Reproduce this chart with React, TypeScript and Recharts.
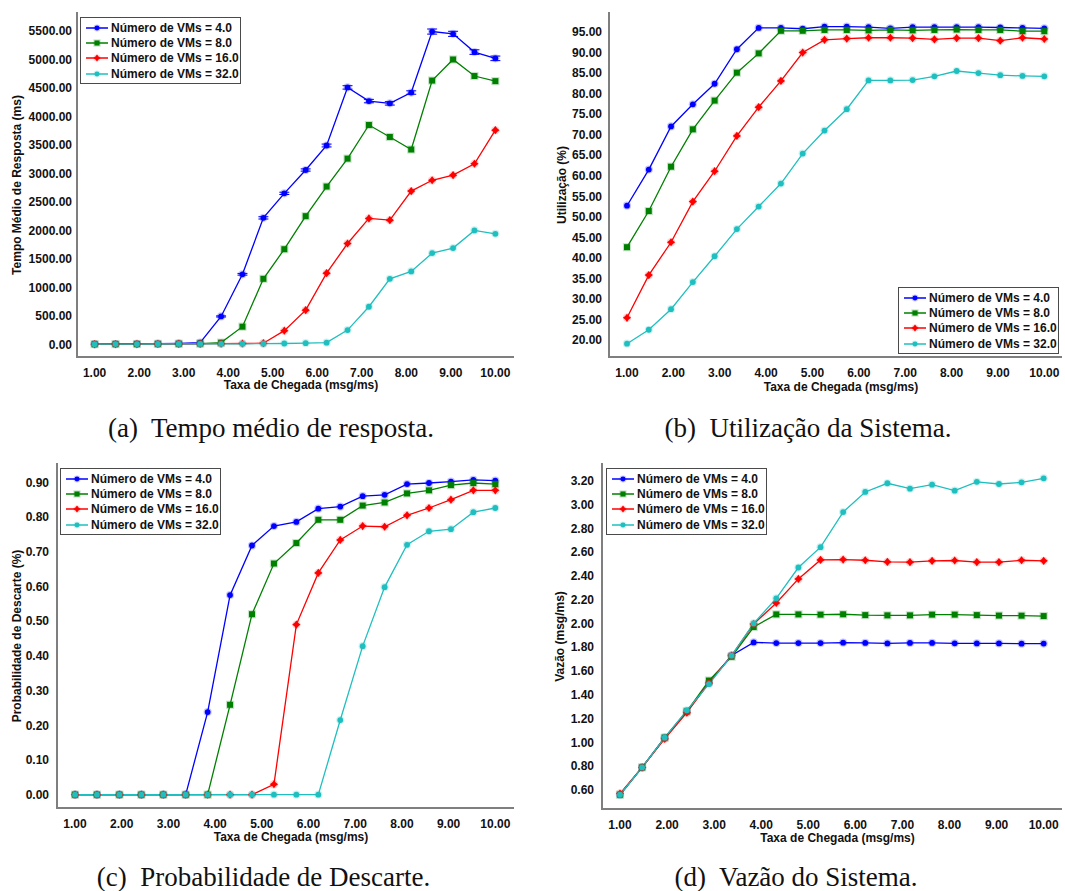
import React from 'react';
import { LineChart, Line, XAxis, YAxis, Legend, ErrorBar, Label } from 'recharts';

// ---------- data ----------
const rates = [1.0, 1.47, 1.95, 2.42, 2.89, 3.37, 3.84, 4.32, 4.79, 5.26, 5.74, 6.21, 6.68, 7.16, 7.63, 8.11, 8.58, 9.05, 9.53, 10.0];
const xTicks = [1, 2, 3, 4, 5, 6, 7, 8, 9, 10];

const respVm4 = [5, 6, 8, 12, 18, 30, 490, 1230, 2220, 2650, 3060, 3490, 4510, 4270, 4230, 4420, 5490, 5450, 5130, 5020];
const respVm4Err = [0, 0, 0, 0, 0, 0, 10, 15, 20, 20, 20, 25, 30, 30, 30, 30, 45, 45, 40, 40];
const respVm8 = [4, 5, 6, 8, 10, 14, 30, 310, 1150, 1670, 2250, 2770, 3260, 3850, 3640, 3420, 4630, 5000, 4710, 4620];
const respVm16 = [3, 4, 5, 6, 7, 9, 12, 15, 20, 240, 600, 1250, 1770, 2210, 2180, 2690, 2880, 2970, 3170, 3760];
const respVm32 = [3, 4, 5, 6, 7, 8, 9, 10, 12, 15, 20, 30, 250, 660, 1150, 1280, 1600, 1690, 2000, 1940];
const respTicks = [0, 500, 1000, 1500, 2000, 2500, 3000, 3500, 4000, 4500, 5000, 5500];

const utilVm4 = [52.7, 61.5, 72.0, 77.4, 82.4, 90.8, 96.0, 96.0, 95.8, 96.3, 96.3, 96.2, 95.9, 96.2, 96.2, 96.2, 96.2, 96.1, 96.0, 95.9];
const utilVm8 = [42.6, 51.4, 62.2, 71.3, 78.3, 85.1, 89.8, 95.3, 95.3, 95.5, 95.5, 95.4, 95.5, 95.4, 95.5, 95.6, 95.5, 95.5, 95.2, 95.2];
const utilVm16 = [25.4, 35.8, 43.8, 53.7, 61.1, 69.7, 76.7, 83.1, 90.0, 93.1, 93.4, 93.6, 93.6, 93.5, 93.2, 93.5, 93.5, 92.9, 93.6, 93.3];
const utilVm32 = [19.1, 22.5, 27.5, 34.1, 40.4, 47.0, 52.5, 58.1, 65.4, 71.0, 76.2, 83.2, 83.2, 83.3, 84.2, 85.5, 85.0, 84.5, 84.3, 84.2];
const utilTicks = [20, 25, 30, 35, 40, 45, 50, 55, 60, 65, 70, 75, 80, 85, 90, 95];

const dropVm4 = [0, 0, 0, 0, 0, 0, 0.238, 0.575, 0.718, 0.774, 0.786, 0.824, 0.83, 0.86, 0.864, 0.895, 0.898, 0.902, 0.907, 0.905];
const dropVm8 = [0, 0, 0, 0, 0, 0, 0, 0.259, 0.52, 0.666, 0.725, 0.792, 0.792, 0.833, 0.842, 0.868, 0.877, 0.892, 0.898, 0.895];
const dropVm16 = [0, 0, 0, 0, 0, 0, 0, 0, 0, 0.03, 0.49, 0.639, 0.734, 0.774, 0.772, 0.805, 0.826, 0.85, 0.877, 0.877];
const dropVm32 = [0, 0, 0, 0, 0, 0, 0, 0, 0, 0, 0, 0, 0.215, 0.428, 0.598, 0.72, 0.759, 0.765, 0.814, 0.826];
const dropTicks = [0, 0.1, 0.2, 0.3, 0.4, 0.5, 0.6, 0.7, 0.8, 0.9];

const thrVm4 = [0.56, 0.79, 1.04, 1.26, 1.5, 1.73, 1.84, 1.835, 1.835, 1.835, 1.838, 1.836, 1.832, 1.836, 1.836, 1.833, 1.832, 1.832, 1.83, 1.831];
const thrVm8 = [0.56, 0.79, 1.04, 1.26, 1.52, 1.72, 1.97, 2.076, 2.076, 2.074, 2.077, 2.07, 2.068, 2.068, 2.074, 2.074, 2.07, 2.066, 2.065, 2.062];
const thrVm16 = [0.57, 0.79, 1.03, 1.25, 1.5, 1.73, 1.995, 2.172, 2.374, 2.534, 2.537, 2.531, 2.517, 2.515, 2.526, 2.529, 2.515, 2.515, 2.531, 2.526];
const thrVm32 = [0.56, 0.79, 1.04, 1.27, 1.49, 1.73, 2.0, 2.211, 2.47, 2.641, 2.936, 3.105, 3.178, 3.133, 3.166, 3.116, 3.19, 3.172, 3.186, 3.22];
const thrTicks = [0.6, 0.8, 1.0, 1.2, 1.4, 1.6, 1.8, 2.0, 2.2, 2.4, 2.6, 2.8, 3.0, 3.2];

const seriesNames = ['Número de VMs = 4.0', 'Número de VMs = 8.0', 'Número de VMs = 16.0', 'Número de VMs = 32.0'];
const seriesKeys = ['vm4', 'vm8', 'vm16', 'vm32'];
const seriesColors = ['#0000FF', '#008000', '#FF0000', '#1FBFBF'];
const seriesShapes = ['circle', 'square', 'star', 'circle'];

const xLabelText = 'Taxa de Chegada (msg/ms)';

// ---------- helpers ----------
function buildRows(v4: number[], v8: number[], v16: number[], v32: number[], e4?: number[]) {
  return rates.map((x, i) => ({
    x,
    vm4: v4[i],
    vm8: v8[i],
    vm16: v16[i],
    vm32: v32[i],
    err4: e4 ? e4[i] : 0,
  }));
}

const FONT = '"Liberation Sans", Arial, Helvetica, sans-serif';
const FRAME = '#7f7f7f';

function Marker({ shape, color, cx, cy, s = 1 }: { shape: string; color: string; cx: number; cy: number; s?: number }) {
  if (shape === 'square') {
    const h = 3.0 * s;
    return (
      <g>
        <rect x={cx - h - 1.1} y={cy - h - 1.1} width={2 * h + 2.2} height={2 * h + 2.2} fill={color} opacity={0.22} />
        <rect x={cx - h} y={cy - h} width={2 * h} height={2 * h} fill={color} />
      </g>
    );
  }
  if (shape === 'star') {
    const o = 4.1 * s;
    const n = 1.8 * s;
    const pts = [
      [0, -o], [n, -n], [o, 0], [n, n], [0, o], [-n, n], [-o, 0], [-n, -n],
    ].map(([a, b]) => `${cx + a},${cy + b}`).join(' ');
    return (
      <g>
        <circle cx={cx} cy={cy} r={4.2 * s} fill={color} opacity={0.18} />
        <polygon points={pts} fill={color} />
      </g>
    );
  }
  return (
    <g>
      <circle cx={cx} cy={cy} r={4.1 * s} fill={color} opacity={0.22} />
      <circle cx={cx} cy={cy} r={2.9 * s} fill={color} />
    </g>
  );
}

const makeDot = (shape: string, color: string) => (props: any) => {
  const { cx, cy, index } = props;
  if (cx == null || cy == null) return <g key={`e-${index}`} />;
  return (
    <g key={`${shape}-${index}`}>
      <Marker shape={shape} color={color} cx={cx} cy={cy} />
    </g>
  );
};

const renderLegend = (props: any) => {
  const payload = [...(props.payload || [])].sort(
    (a: any, b: any) => seriesKeys.indexOf(a.dataKey) - seriesKeys.indexOf(b.dataKey)
  );
  return (
    <div
      style={{
        border: '1.5px solid #4a4a4a',
        background: '#fff',
        width: 161,
        boxSizing: 'border-box',
        padding: '2px 0 2px 0',
      }}
    >
      {payload.map((entry: any) => {
        const idx = seriesKeys.indexOf(entry.dataKey);
        return (
          <div key={entry.dataKey} style={{ height: 15.3, display: 'flex', alignItems: 'center' }}>
            <svg width={30} height={12} style={{ flex: 'none' }}>
              <line x1={5} x2={27} y1={6} y2={6} stroke={entry.color} strokeWidth={1.5} />
              <Marker shape={seriesShapes[idx]} color={entry.color} cx={16} cy={6} s={0.85} />
            </svg>
            <span style={{ font: `bold 12px ${FONT}`, color: '#111', whiteSpace: 'nowrap' }}>{entry.value}</span>
          </div>
        );
      })}
    </div>
  );
};

type PanelProps = {
  data: any[];
  l: number; r: number; t: number; b: number;
  xDomain: [number, number];
  yDomain: [number, number];
  yTicks: number[];
  yLabel: string;
  yLabelX: number;
  tickGap: number;
  xLabelOffset: number;
  legendX: number; legendY: number;
  withErr?: boolean;
};

const AXIS_W = 77;

function Panel(p: PanelProps) {
  const boxLeft = p.l - AXIS_W;
  const boxTop = p.t - 13;
  const width = p.r - p.l + AXIS_W + 4;
  const height = p.b - p.t + 58;
  const tickStyle = { fill: '#111', fontSize: 12, fontWeight: 'bold', fontFamily: FONT };
  const axisLine = { stroke: FRAME, strokeWidth: 2, strokeLinecap: 'square' };
  const fmt = (v: number) => v.toFixed(2);
  return (
    <div style={{ position: 'absolute', left: boxLeft, top: boxTop, width, height }}>
      <LineChart width={width} height={height} data={p.data} margin={{ top: 13, right: 4, bottom: 0, left: 0 }}>
        <XAxis
          dataKey="x"
          type="number"
          domain={p.xDomain}
          ticks={xTicks}
          allowDataOverflow
          height={45}
          tickSize={0}
          tickLine={false}
          tickMargin={11}
          tick={tickStyle}
          tickFormatter={fmt}
          axisLine={axisLine}
        >
          <Label
            value={xLabelText}
            position="insideBottom"
            offset={p.xLabelOffset}
            dx={6}
            style={{ fontSize: 12, fontWeight: 'bold', fontFamily: FONT, fill: '#111' }}
          />
        </XAxis>
        <XAxis
          xAxisId="top"
          orientation="top"
          type="number"
          dataKey="x"
          domain={p.xDomain}
          ticks={xTicks}
          allowDataOverflow
          height={0}
          mirror
          tick={false}
          tickSize={4}
          tickLine={{ stroke: FRAME, strokeWidth: 1 }}
          axisLine={axisLine}
        />
        <YAxis
          type="number"
          domain={p.yDomain}
          ticks={p.yTicks}
          allowDataOverflow
          width={AXIS_W}
          tickSize={0}
          tickLine={false}
          tickMargin={p.tickGap}
          tick={tickStyle}
          tickFormatter={fmt}
          axisLine={axisLine}
        >
          <Label
            value={p.yLabel}
            angle={-90}
            position="insideLeft"
            offset={p.yLabelX - boxLeft}
            style={{ textAnchor: 'middle', fontSize: 12, fontWeight: 'bold', fontFamily: FONT, fill: '#111' }}
          />
        </YAxis>
        <YAxis
          yAxisId="right"
          orientation="right"
          type="number"
          domain={p.yDomain}
          ticks={p.yTicks}
          allowDataOverflow
          width={0}
          mirror
          tick={false}
          tickSize={4}
          tickLine={{ stroke: FRAME, strokeWidth: 1 }}
          axisLine={axisLine}
        />
        <Legend
          layout="horizontal"
          align="center"
          verticalAlign="middle"
          content={renderLegend}
          wrapperStyle={{ left: p.legendX - boxLeft, top: p.legendY - boxTop, width: 161 }}
        />
        {seriesKeys.map((k, i) => (
          <Line
            key={k}
            dataKey={k}
            name={seriesNames[i]}
            stroke={seriesColors[i]}
            strokeWidth={1.3}
            dot={makeDot(seriesShapes[i], seriesColors[i])}
            activeDot={false}
            isAnimationActive={false}
          >
            {p.withErr && k === 'vm4' ? (
              <ErrorBar dataKey="err4" direction="y" width={5} stroke={seriesColors[i]} strokeWidth={1} />
            ) : null}
          </Line>
        ))}
      </LineChart>
    </div>
  );
}

const captionStyle = (cx: number, baseline: number): React.CSSProperties => ({
  position: 'absolute',
  left: cx - 250,
  width: 500,
  top: baseline - 22.6,
  textAlign: 'center',
  fontFamily: '"Liberation Serif", "Times New Roman", serif',
  fontSize: 27,
  lineHeight: '27px',
  color: '#111',
  whiteSpace: 'pre',
});

export default function App() {
  const dataA = buildRows(respVm4, respVm8, respVm16, respVm32, respVm4Err);
  const dataB = buildRows(utilVm4, utilVm8, utilVm16, utilVm32);
  const dataC = buildRows(dropVm4, dropVm8, dropVm16, dropVm32);
  const dataD = buildRows(thrVm4, thrVm8, thrVm16, thrVm32);
  return (
    <div style={{ position: 'absolute', left: 0, top: 0, width: 1065, height: 891, background: '#fff', overflow: 'hidden' }}>
      <Panel
        data={dataA}
        l={77} r={513} t={13} b={357}
        xDomain={[0.604, 10.396]}
        yDomain={[-222, 5816]}
        yTicks={respTicks}
        yLabel="Tempo Médio de Resposta (ms)"
        yLabelX={17}
        tickGap={5}
        xLabelOffset={12.7}
        legendX={80} legendY={17}
        withErr
      />
      <Panel
        data={dataB}
        l={609} r={1061} t={13} b={357}
        xDomain={[0.612, 10.36]}
        yDomain={[15.86, 99.63]}
        yTicks={utilTicks}
        yLabel="Utilização (%)"
        yLabelX={561.7}
        tickGap={7}
        xLabelOffset={10.7}
        legendX={898} legendY={287}
      />
      <Panel
        data={dataC}
        l={57} r={513} t={464} b={808}
        xDomain={[0.614, 10.379]}
        yDomain={[-0.0384, 0.9528]}
        yTicks={dropTicks}
        yLabel="Probabilidade de Descarte (%)"
        yLabelX={17}
        tickGap={8}
        xLabelOffset={11.7}
        legendX={60} legendY={468}
      />
      <Panel
        data={dataD}
        l={602} r={1061} t={464} b={809}
        xDomain={[0.618, 10.368]}
        yDomain={[0.4403, 3.34]}
        yTicks={thrTicks}
        yLabel="Vazão (msg/ms)"
        yLabelX={560}
        tickGap={8}
        xLabelOffset={11.7}
        legendX={606} legendY={468}
      />
      <div style={captionStyle(271, 438)}>{'(a)  Tempo médio de resposta.'}</div>
      <div style={captionStyle(808, 438)}>{'(b)  Utilização da Sistema.'}</div>
      <div style={captionStyle(263.5, 886.7)}>{'(c)  Probabilidade de Descarte.'}</div>
      <div style={captionStyle(796, 886.7)}>{'(d)  Vazão do Sistema.'}</div>
    </div>
  );
}
